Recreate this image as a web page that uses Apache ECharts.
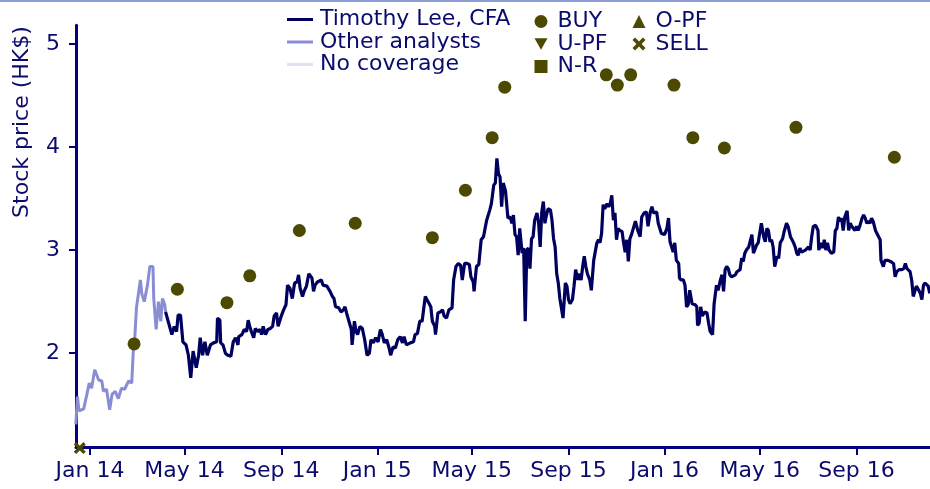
<!DOCTYPE html>
<html>
<head>
<meta charset="utf-8">
<script src="https://cdn.jsdelivr.net/npm/echarts@6/dist/echarts.min.js"></script>
<style>
    html, body { margin: 0; padding: 0; background: #fff; }
    #main { width: 930px; height: 489px; }
</style>
</head>
<body>
<div id="main"></div>
<script>
// x values are days counted from 1 Jan 2014
const tickDays = [0, 120, 243, 365, 485, 608, 730, 851, 974];
const tickLabels = ['Jan 14', 'May 14', 'Sep 14', 'Jan 15', 'May 15', 'Sep 15', 'Jan 16', 'May 16', 'Sep 16'];
const priceTicks = [2, 3, 4, 5];

// other analysts (before coverage started)
const otherDays = [-18, -16, -14, -8, -4, -1, 2, 6, 11, 15, 17, 21, 25, 28, 32, 36, 40, 44, 49, 53,
    55, 57, 59, 64, 66, 69, 73, 76, 80, 81, 84, 87, 90, 92, 95, 96];
const otherPrice = [1.31, 1.58, 1.44, 1.46, 1.60, 1.71, 1.66, 1.84, 1.74, 1.73, 1.63, 1.65, 1.45, 1.60, 1.63, 1.56, 1.66, 1.65, 1.73, 1.71,
    2.02, 2.16, 2.44, 2.71, 2.57, 2.50, 2.66, 2.84, 2.84, 2.53, 2.23, 2.50, 2.31, 2.53, 2.47, 2.40];

// Timothy Lee, CFA
const leeDays = [96, 100, 104, 107, 110, 112, 115, 118, 122, 125, 128, 131, 135, 138, 140, 143, 146, 149, 153, 157, 161,
    162, 165, 166, 169, 172, 175, 179, 182, 185, 188, 189, 193, 196, 199, 201, 203, 205, 208, 210, 213, 216, 218, 220, 223,
    226, 229, 232, 234, 237, 239, 243, 246, 249, 251, 254, 257, 260, 263, 265, 267, 270, 272, 275, 278, 282, 284, 286, 289,
    294, 296, 301, 305, 308, 310, 312, 316, 319, 322, 324, 326, 329, 332, 333, 336, 338, 340,
    343, 346, 349, 352, 355, 357, 360, 363, 366, 369, 371, 374, 377, 380, 382, 385, 388, 391, 394, 397, 399, 402, 407, 411,
    413, 416, 419, 422, 426, 428, 431, 433, 435, 438, 439, 442, 445, 448, 450, 453, 456, 460, 462, 465, 468, 471, 473, 476,
    479, 482, 484, 487, 488, 491, 494, 497, 500, 502, 504, 506, 508, 510, 513,
    515, 517, 519, 521, 523, 525, 528, 531, 534, 536, 538, 540, 542, 544, 546, 549, 551, 553, 555, 557, 559, 561, 563, 565,
    568, 570, 572, 574, 576, 578, 580, 582, 585, 587, 589, 591, 593, 595, 597, 599, 601, 604, 606, 608, 610, 613, 615, 617,
    620, 621, 624, 626, 628, 630, 632, 635, 637, 640, 642, 644, 646, 648, 650, 652, 654, 657, 659, 661, 663, 665, 667, 669,
    671, 673, 676, 678, 680, 682, 684, 686, 688, 690,
    693, 696, 699, 701, 704, 707, 709, 712, 714, 716, 718, 720, 722, 724, 726, 730, 733, 735, 737, 739, 741, 743, 745, 748,
    749, 751, 754, 756, 758, 760, 762, 765, 767, 769, 771, 772, 774, 776, 778, 781, 784, 786, 788, 791, 793, 795, 796, 798,
    801, 803, 805, 807, 809, 811, 813, 815, 820, 822, 824, 826, 828, 830, 832, 834, 837, 839, 841, 843, 845, 847, 849, 851,
    853, 856, 858, 860, 862, 864, 866, 868,
    870, 873, 875, 877, 880, 882, 885, 887, 890, 892, 894, 896, 898, 900, 902, 904, 906, 909, 911, 913, 915, 917, 919, 922,
    925, 926, 929, 931, 933, 935, 937, 939, 942, 945, 947, 949, 951, 953, 955, 957, 959, 962, 964, 966, 968, 970, 972, 974,
    976, 978, 981, 983, 985, 987, 989, 991, 993, 995, 998, 1000, 1002, 1004, 1005, 1007, 1008, 1010, 1012, 1014, 1017, 1019,
    1021, 1023, 1025, 1028, 1031, 1034, 1036, 1038, 1040, 1042, 1044, 1046, 1048, 1050, 1053, 1055, 1057, 1059, 1061, 1063,
    1065, 1067];
const leePrice = [2.40, 2.29, 2.18, 2.26, 2.21, 2.37, 2.37, 2.11, 2.08, 1.98, 1.76, 2.02, 1.86, 1.98, 2.15, 1.98, 2.11, 1.98, 2.08, 2.10, 2.11,
    2.34, 2.32, 2.10, 2.08, 2.00, 1.98, 1.97, 2.11, 2.15, 2.08, 2.16, 2.18, 2.23, 2.21, 2.32, 2.26, 2.21, 2.15, 2.24, 2.21, 2.23, 2.18, 2.26, 2.18,
    2.23, 2.24, 2.26, 2.36, 2.39, 2.26, 2.36, 2.42, 2.47, 2.66, 2.63, 2.53, 2.68, 2.69, 2.76, 2.63, 2.55, 2.60, 2.65, 2.77, 2.73, 2.60, 2.66, 2.69,
    2.71, 2.66, 2.65, 2.60, 2.55, 2.53, 2.45, 2.44, 2.40, 2.42, 2.45, 2.39, 2.31, 2.23, 2.08, 2.31, 2.21, 2.18,
    2.26, 2.24, 2.13, 1.98, 2.00, 2.13, 2.10, 2.15, 2.11, 2.23, 2.19, 2.10, 2.13, 2.05, 1.98, 2.06, 2.05, 2.13, 2.16, 2.10, 2.16, 2.08, 2.10, 2.11,
    2.18, 2.19, 2.31, 2.31, 2.55, 2.52, 2.48, 2.45, 2.31, 2.26, 2.18, 2.39, 2.40, 2.42, 2.36, 2.34, 2.42, 2.44, 2.71, 2.84, 2.87, 2.85, 2.71, 2.87,
    2.87, 2.86, 2.74, 2.69, 2.60, 2.84, 2.86, 3.10, 3.13, 3.21, 3.29, 3.28, 3.39, 3.45, 3.63,
    3.65, 3.89, 3.74, 3.71, 3.42, 3.65, 3.57, 3.31, 3.32, 3.26, 3.34, 3.15, 3.13, 2.95, 3.21, 2.97, 3.02, 2.31, 3.00, 3.02, 2.82, 3.11, 3.13, 3.29,
    3.36, 3.26, 3.03, 3.37, 3.47, 3.26, 3.34, 3.40, 3.39, 3.29, 3.11, 3.03, 2.77, 2.68, 2.53, 2.52, 2.34, 2.68, 2.65, 2.52, 2.48, 2.52, 2.65, 2.81,
    2.71, 2.77, 2.71, 2.84, 2.94, 2.84, 2.77, 2.71, 2.61, 2.90, 2.89, 3.07, 3.10, 3.07, 3.16, 3.44, 3.40, 3.45, 3.42, 3.45, 3.53, 3.29, 3.36, 3.10,
    3.21, 3.19, 3.18, 3.07, 2.98, 3.10, 2.89, 3.11, 3.15, 3.16,
    3.28, 3.19, 3.13, 3.32, 3.36, 3.37, 3.23, 3.37, 3.42, 3.36, 3.37, 3.37, 3.26, 3.26, 3.16, 3.15, 3.21, 3.31, 3.08, 3.07, 2.98, 3.07, 2.90, 2.87,
    2.73, 2.71, 2.71, 2.66, 2.45, 2.47, 2.61, 2.48, 2.47, 2.47, 2.45, 2.27, 2.29, 2.45, 2.36, 2.40, 2.39, 2.29, 2.21, 2.18, 2.48, 2.48, 2.66, 2.61,
    2.71, 2.76, 2.60, 2.81, 2.84, 2.82, 2.76, 2.74, 2.76, 2.79, 2.79, 2.81, 2.92, 2.89, 2.97, 3.00, 3.03, 3.03, 3.15, 2.97, 2.98, 3.05, 3.07, 3.08,
    3.26, 3.13, 3.08, 3.21, 3.19, 3.08, 3.10, 3.03,
    2.84, 2.94, 2.92, 3.07, 3.11, 3.18, 3.26, 3.23, 3.13, 3.13, 3.07, 3.03, 2.97, 2.95, 3.02, 2.98, 2.98, 3.00, 3.00, 3.03, 3.00, 3.13, 3.23, 3.24,
    3.19, 3.00, 3.07, 3.02, 3.10, 3.00, 3.07, 3.00, 2.97, 2.98, 3.19, 3.21, 3.32, 3.28, 3.31, 3.19, 3.32, 3.38, 3.19, 3.26, 3.23, 3.21, 3.19, 3.23,
    3.19, 3.23, 3.31, 3.34, 3.31, 3.26, 3.28, 3.26, 3.31, 3.28, 3.19, 3.18, 3.13, 3.10, 2.90, 2.89, 2.84, 2.90, 2.89, 2.90, 2.89, 2.89,
    2.87, 2.74, 2.79, 2.81, 2.81, 2.82, 2.87, 2.82, 2.81, 2.79, 2.71, 2.55, 2.60, 2.65, 2.61, 2.58, 2.52, 2.66, 2.68, 2.68,
    2.65, 2.58];

// rating markers
const buyDays = [56, 111, 174, 203, 266, 337, 435, 477, 511, 527, 656, 670, 687, 742, 766, 806, 897, 1022];
const buyPrice = [2.09, 2.62, 2.49, 2.75, 3.19, 3.26, 3.12, 3.58, 4.09, 4.58, 4.70, 4.60, 4.70, 4.60, 4.09, 3.99, 4.19, 3.90];
const sellDays = [-13];
const sellPrice = [1.08];

const NAVY = '#000080';
const TEXT = '#0b0b6e';
const OLIVE = '#4c4a00';
const FONT = 'DejaVu Sans';
const FONT_SIZE = 22;

function pairs(xs, ys) {
    return xs.map((x, i) => [x, ys[i]]);
}

const chart = echarts.init(document.getElementById('main'));

const legendBase = {
    orient: 'vertical',
    padding: 0,
    itemGap: 0.5,
    textStyle: { color: TEXT, fontFamily: FONT, fontSize: FONT_SIZE, lineHeight: 21 },
    selectedMode: false
};

const option = {
    backgroundColor: '#fff',
    animation: false,
    grid: { left: 76, right: 0, top: 25.3, bottom: 42, outerBoundsMode: 'none', containLabel: false },
    xAxis: {
        type: 'value',
        min: -17.8,
        max: 1067.3,
        axisLine: { onZero: false, lineStyle: { color: NAVY, width: 3 } },
        axisTick: { customValues: tickDays, length: 8, lineStyle: { color: NAVY, width: 2 } },
        axisLabel: {
            customValues: tickDays,
            formatter: v => tickLabels[tickDays.indexOf(v)],
            color: TEXT, fontFamily: FONT, fontSize: FONT_SIZE, margin: 13
        },
        splitLine: { show: false }
    },
    yAxis: {
        type: 'value',
        min: 1.09,
        max: 5.18,
        axisLine: { show: true, onZero: false, lineStyle: { color: NAVY, width: 3 } },
        axisTick: { show: true, customValues: priceTicks, length: 7, lineStyle: { color: NAVY, width: 2 } },
        axisLabel: {
            customValues: priceTicks,
            color: TEXT, fontFamily: FONT, fontSize: FONT_SIZE, margin: 16
        },
        splitLine: { show: false }
    },
    legend: [
        Object.assign({}, legendBase, {
            left: 287, top: 8.5,
            icon: 'rect', itemWidth: 26, itemHeight: 3,
            textStyle: Object.assign({}, legendBase.textStyle, { padding: [0, 0, 0, 2] }),
            data: ['Timothy Lee, CFA', 'Other analysts', 'No coverage']
        }),
        Object.assign({}, legendBase, {
            left: 534.5, top: 10.5,
            itemWidth: 13, itemHeight: 13,
            textStyle: Object.assign({}, legendBase.textStyle, { padding: [0, 0, 0, 5] }),
            data: ['BUY', 'U-PF', 'N-R']
        }),
        Object.assign({}, legendBase, {
            left: 632.5, top: 10.5,
            itemWidth: 13, itemHeight: 13,
            textStyle: Object.assign({}, legendBase.textStyle, { padding: [0, 0, 0, 5] }),
            data: ['O-PF', 'SELL']
        })
    ],
    graphic: [
        {
            type: 'rect', left: 0, top: 0, z: 10,
            shape: { width: 930, height: 2 },
            style: { fill: '#8c9ed6' }
        },
        {
            type: 'text', x: 22, y: 122, rotation: Math.PI / 2,
            style: {
                text: 'Stock price (HK$)', fill: TEXT, font: FONT_SIZE + 'px "DejaVu Sans"',
                align: 'center', verticalAlign: 'middle'
            }
        }
    ],
    series: [
        {
            name: 'No coverage', type: 'line', data: [], showSymbol: false,
            itemStyle: { color: '#dde2f3' }, lineStyle: { color: '#dde2f3', width: 3 }
        },
        {
            name: 'Other analysts', type: 'line', data: pairs(otherDays, otherPrice),
            showSymbol: false, z: 2,
            itemStyle: { color: '#8a8dd3' }, lineStyle: { color: '#8a8dd3', width: 3 }
        },
        {
            name: 'Timothy Lee, CFA', type: 'line', data: pairs(leeDays, leePrice),
            showSymbol: false, z: 3,
            itemStyle: { color: '#00005f' }, lineStyle: { color: '#00005f', width: 3.2 }
        },
        {
            name: 'BUY', type: 'scatter', symbol: 'circle', symbolSize: 13, z: 5,
            itemStyle: { color: OLIVE, opacity: 1 }, data: pairs(buyDays, buyPrice)
        },
        {
            name: 'O-PF', type: 'scatter', symbol: 'triangle', symbolSize: 13, z: 5,
            itemStyle: { color: OLIVE, opacity: 1 }, data: []
        },
        {
            name: 'U-PF', type: 'scatter', symbol: 'path://M0,0 L10,0 L5,9 Z', symbolSize: 13, z: 5,
            itemStyle: { color: OLIVE, opacity: 1 }, data: []
        },
        {
            name: 'SELL', type: 'scatter', clip: false, z: 6,
            symbol: 'path://M2,0 L5,3 L8,0 L10,2 L7,5 L10,8 L8,10 L5,7 L2,10 L0,8 L3,5 L0,2 Z',
            symbolSize: 12,
            itemStyle: { color: OLIVE, opacity: 1 }, data: pairs(sellDays, sellPrice)
        },
        {
            name: 'N-R', type: 'scatter', symbol: 'rect', symbolSize: 13, z: 5,
            itemStyle: { color: OLIVE, opacity: 1 }, data: []
        }
    ]
};

chart.setOption(option);
</script>
</body>
</html>
